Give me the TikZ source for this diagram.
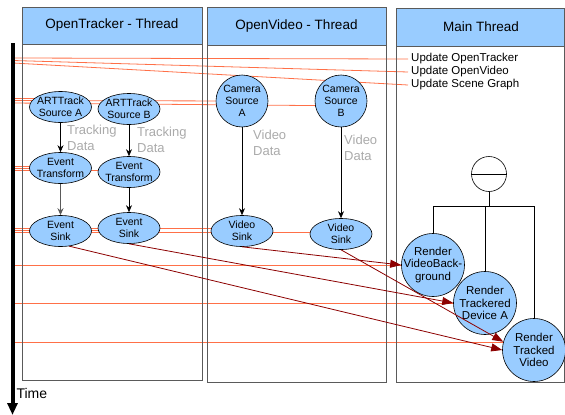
\documentclass[tikz,border=0pt]{standalone}
\usepackage{fontspec}
\setmainfont{Liberation Sans}
\usetikzlibrary{shapes.geometric,arrows.meta,backgrounds}
\definecolor{hdrblue}{RGB}{153,204,255}
\definecolor{syncred}{RGB}{255,112,72}
\definecolor{callred}{RGB}{140,0,0}
\definecolor{framegray}{RGB}{90,90,90}
\definecolor{notegray}{RGB}{170,170,170}
\begin{document}
\begin{tikzpicture}[x=1pt,y=-1pt,
    panel/.style={draw=framegray,line width=1pt},
    header/.style={draw=framegray,line width=1pt,fill=hdrblue},
    title/.style={font=\fontsize{13.5}{16}\selectfont},
    oval/.style={ellipse,draw,fill=hdrblue,line width=0.6pt,inner xsep=-2pt,inner ysep=-1.5pt,
      minimum width=62pt,minimum height=31pt,align=center,font=\fontsize{10.5}{12}\selectfont},
    cam/.style={circle,draw,fill=hdrblue,line width=0.6pt,inner sep=0pt,minimum size=52pt,
      align=center,font=\fontsize{10.5}{12}\selectfont},
    render/.style={circle,draw,fill=hdrblue,line width=0.6pt,inner sep=-4pt,minimum size=63pt,
      align=center,font=\fontsize{11.5}{12.5}\selectfont},
    flow/.style={-{Stealth[length=7pt,width=6pt]},line width=0.7pt},
    sync/.style={color=syncred,line width=0.8pt},
    call/.style={draw=callred,line width=0.8pt,-{Triangle[length=11pt,width=8pt]}},
    note/.style={anchor=north west,inner sep=0pt,align=left,text=notegray,font=\fontsize{13}{16}\selectfont},
    update/.style={anchor=west,inner sep=3pt,font=\fontsize{11.5}{13}\selectfont}]
  \useasboundingbox (0,0) rectangle (565,415);
  \draw[panel] (22,7) rectangle (202,380);
  \draw[panel] (207,7) rectangle (386,382);
  \draw[panel] (396,8) rectangle (564,382);
  \draw[header] (22,7) rectangle (202,44);
  \draw[header] (207,7) rectangle (386,45);
  \draw[header] (396,8) rectangle (564,46);
  \node[title] (hdrOT) at (112,25.5) {OpenTracker - Thread};
  \node[title] (hdrOV) at (296.5,26) {OpenVideo - Thread};
  \node[title] (hdrMT) at (481,27) {Main Thread};

  \path (60.5,107) node[oval] (artA) {ARTTrack\\Source A}
        (129,109) node[oval] (artB) {ARTTrack\\Source B}
        (60.5,168) node[oval] (etA) {Event\\Transform}
        (129,172) node[oval] (etB) {Event\\Transform}
        (60.5,231) node[oval] (esA) {Event\\Sink}
        (129,228) node[oval] (esB) {Event\\Sink}
        (242,101) node[cam] (camA) {Camera\\Source\\A}
        (341,101) node[cam] (camB) {Camera\\Source\\B}
        (242,231) node[oval] (vsA) {Video\\Sink}
        (341,234) node[oval] (vsB) {Video\\Sink}
        (433,265) node[render] (rvb) {Render\\VideoBack-\\ground}
        (485,303) node[render] (rtd) {Render\\Trackered\\Device A}
        (534,350) node[render] (rtv) {Render\\Tracked\\Video}
        (489,174) node[circle,draw,line width=0.6pt,minimum size=35pt] (join) {};

  \node[note] (trkA) at (67,125) {Tracking\\Data};
  \node[note] (trkB) at (137,127) {Tracking\\Data};
  \node[note] (vidA) at (253,130) {Video\\Data};
  \node[note] (vidB) at (344,135) {Video\\Data};
  \node[update] (upd1) at (408,59) {Update OpenTracker};
  \node[update] (upd2) at (408,72) {Update OpenVideo};
  \node[update] (upd3) at (408,85) {Update Scene Graph};

  \draw[flow] (artA) -- (etA);
  \draw[flow] (artB) -- (etB);
  \draw[flow,draw=framegray,line width=1.2pt] (etA) -- (esA);
  \draw[flow] (etB) -- (esB);
  \draw[flow] (camA) -- (vsA);
  \draw[flow] (camB) -- (vsB);

  \coordinate (fork) at (489,206);
  \draw[line width=0.6pt] (join.west) -- (join.east);
  \draw[line width=0.6pt] (join.south) -- (fork);
  \draw[line width=0.6pt] (rvb.north) |- (fork);
  \draw[line width=0.6pt] (rtd.north) |- (fork);
  \draw[line width=0.6pt] (rtv.north) |- (fork);

  \coordinate (ttop) at (12.5,43);
  \coordinate (tend) at (12.5,415);
  \draw[line width=4pt,-{Triangle[length=12pt,width=10pt]}] (ttop) -- (tend);
  \node[anchor=west,font=\fontsize{14}{16}\selectfont] (time) at (13,393) {Time};

  \foreach \n/\y in {u1/58,u2/60.5,u3/63,a1/98.5,a2/100.5,a3/103,e1/166.5,e2/168.5,e3/170.5,
      s1/228,s2/230,s3/232.5,r1/265,r2/303,r3/342}
    \coordinate (t\n) at (13,\y);
  \begin{scope}[on background layer={sync}]
    \draw (tu1) -- (upd1.west);
    \draw (tu2) -- (upd2.west);
    \draw (tu3) -- (upd3.west);
    \draw (ta1) -- (artA.center |- ta1);
    \draw (ta2) -- (camA);
    \draw (ta3) -- (camB.190);
    \draw (te1) -- (etA.center |- te1);
    \draw (te2) -- (etA.center |- te2);
    \draw (te3) -- (etB.center |- te3);
    \draw (ts1) -- (vsA.center |- ts1);
    \draw (ts2) -- (esB.center |- ts2);
    \draw (ts3) -- (vsB.center |- ts3);
    \draw (tr1) -- (rvb.center |- tr1);
    \draw (tr2) -- (rtd.center |- tr2);
    \draw (tr3) -- (rtv.center |- tr3);
  \end{scope}

  \draw[call] (vsA.south) -- (rvb.west);
  \draw[call] (esB.south) -- (rtd.west);
  \draw[call] (esA.300) -- (rtv.west);
  \draw[call] (vsB.south) -- (rtv.165);
\end{tikzpicture}
\end{document}
